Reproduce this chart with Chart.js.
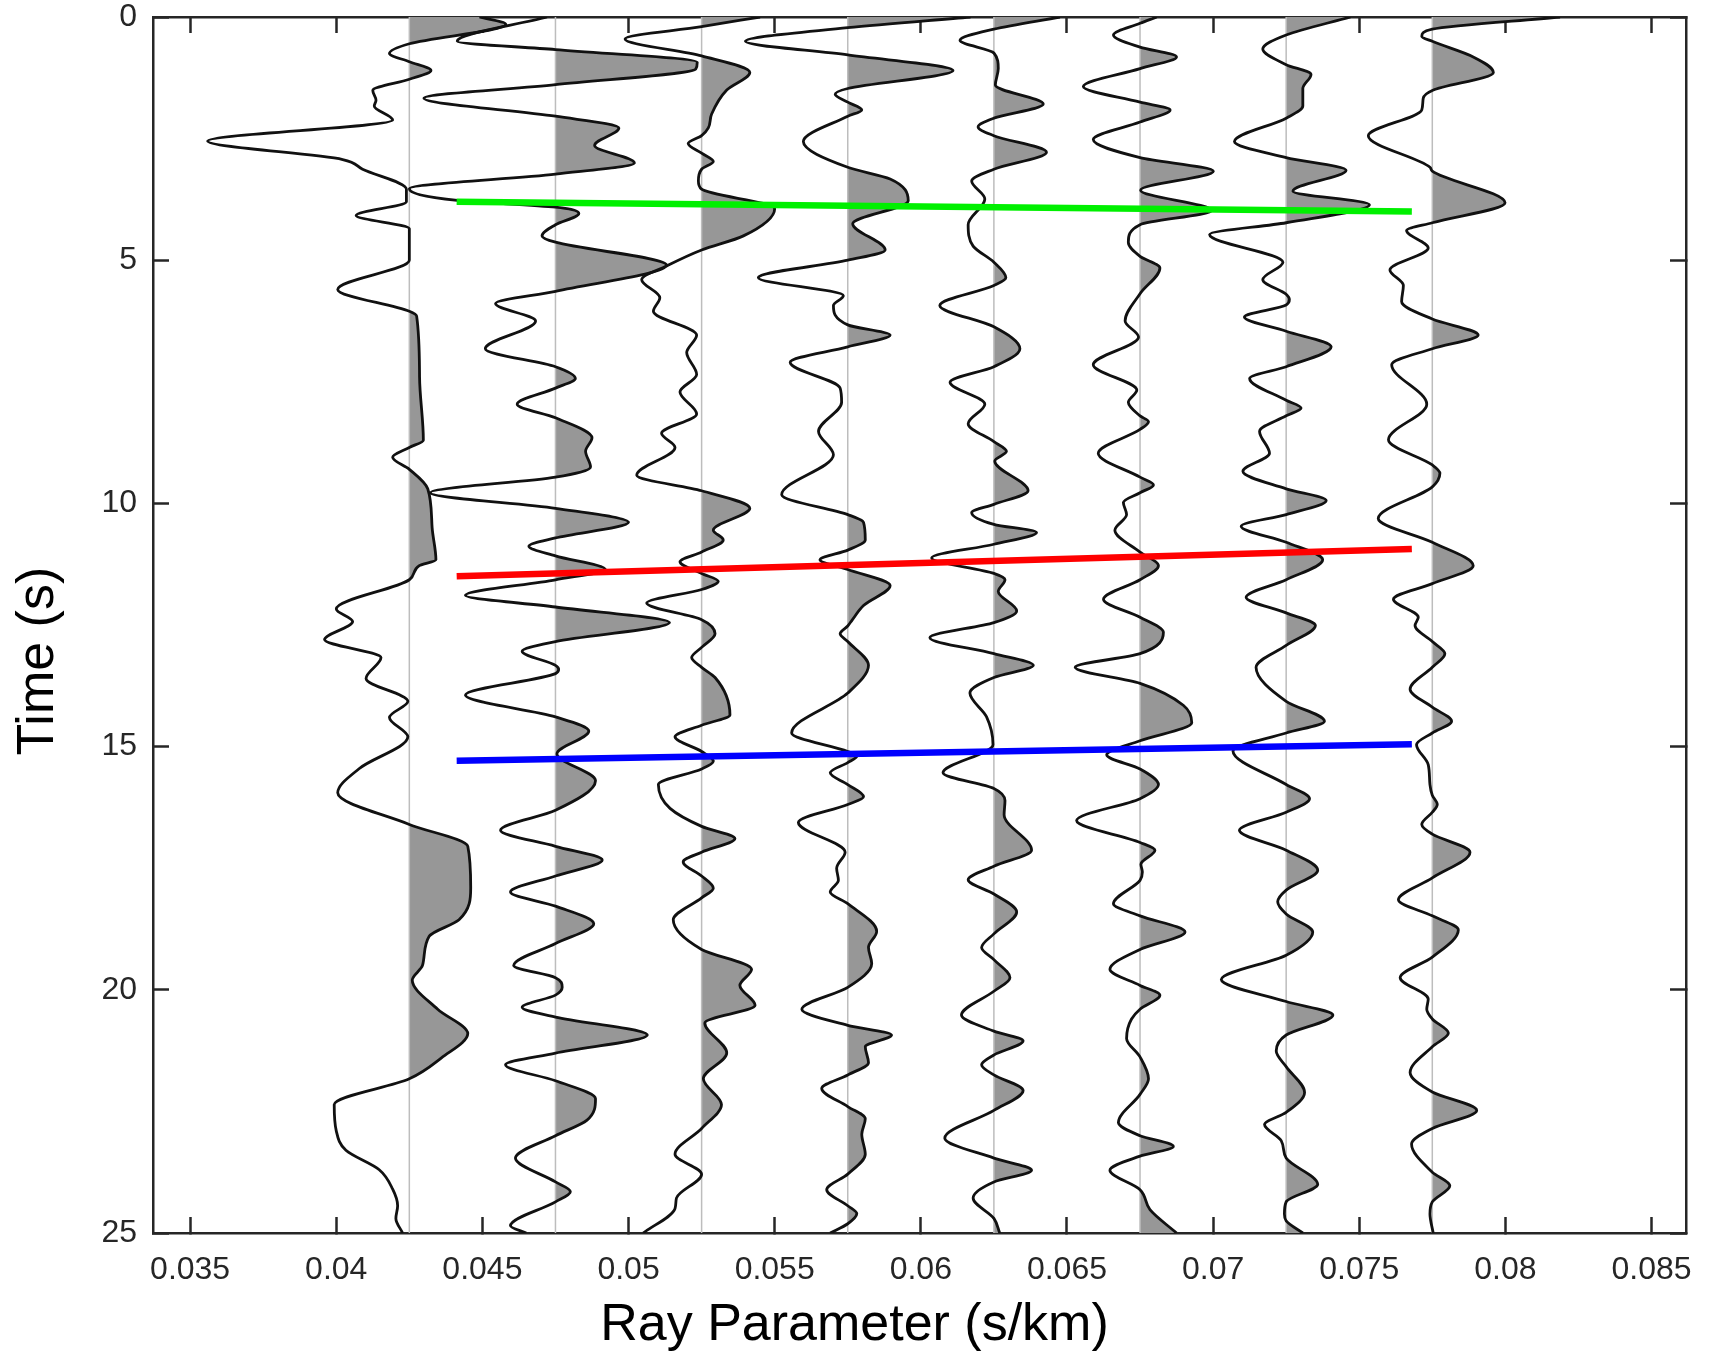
<!DOCTYPE html>
<html>
<head>
<meta charset="utf-8">
<title>Ray parameter gather</title>
<script src="https://cdn.jsdelivr.net/npm/chart.js@4.4.1/dist/chart.umd.min.js"></script>
<style>
  html, body { margin: 0; padding: 0; background: #fff; }
  canvas { display: block; }
</style>
</head>
<body>
<canvas id="gather" width="1713" height="1357"></canvas>
<script>
// ray parameter (s/km) of each trace baseline
const rayParams = [0.0425, 0.0475, 0.0525, 0.0575, 0.0625, 0.0675, 0.0725, 0.0775];

// samples: [time (s), amplitude offset in 0.001 s/km]
const trace1 = [[0,2.4],[0.15,3.3],[0.55,0],[0.75,-0.68],[0.92,0],[1.1,0.74],[1.28,0],[1.51,-1.25],[1.71,-1.14],[1.83,-1.2],[2.12,-0.57],[2.55,-6.9],[2.93,-2.28],[3.13,-1.6],[3.54,-0.1],[3.8,-0.1],[4.08,-1.82],[4.35,0],[5.0,0],[5.6,-2.45],[6.05,0],[6.15,0.25],[7.4,0.35],[8.7,0.48],[8.85,0],[9.05,-0.57],[9.3,0],[9.7,0.63],[10.5,0.78],[11.16,0.91],[11.28,0.34],[11.57,0],[12.17,-2.5],[12.43,-1.94],[12.8,-2.9],[13.17,-0.97],[13.6,-1.48],[14.07,-0.05],[14.4,-0.68],[14.8,-0.05],[15.45,-1.71],[15.95,-2.45],[16.6,0],[17.05,2.0],[17.9,2.1],[18.56,1.7],[18.9,0.68],[19.5,0.45],[19.8,0.1],[20.4,0.97],[20.9,2.0],[21.4,1.1],[21.83,0],[22.36,-2.57],[22.9,-2.5],[23.3,-2.17],[23.7,-1.03],[24.1,-0.57],[24.44,-0.4],[24.7,-0.46],[25,-0.23]];
const trace2 = [[0,-0.29],[0.5,-3.36],[0.67,0],[0.93,4.85],[1.07,4.8],[1.39,0],[1.67,-4.5],[2.04,0],[2.28,2.17],[2.64,1.34],[3.0,2.7],[3.23,0],[3.53,-5.0],[3.77,-3.36],[3.91,0],[4.04,0.8],[4.27,0],[4.5,-0.46],[4.63,0],[5.1,3.8],[5.64,0],[5.89,-2.05],[6.25,-0.68],[6.82,-2.4],[7.19,0],[7.43,0.68],[7.63,0],[7.96,-1.31],[8.24,0],[8.65,1.25],[8.93,1.03],[9.25,1.2],[9.46,0],[9.78,-4.28],[10.1,0],[10.39,2.5],[10.71,0],[10.88,-0.91],[11.08,0],[11.36,1.71],[11.57,0],[11.89,-3.08],[12.13,0],[12.45,3.9],[12.84,0],[13.04,-1.14],[13.33,0],[13.41,0.11],[13.5,0],[13.94,-3.08],[14.39,0],[14.68,1.14],[15.15,0.05],[15.7,1.37],[16.31,0],[16.72,-1.88],[17.05,0],[17.33,1.6],[17.66,0],[17.99,-1.54],[18.28,0],[18.64,1.31],[19.05,0],[19.5,-1.43],[19.75,0],[19.95,0.23],[20.11,0],[20.36,-1.14],[20.56,0],[20.93,3.14],[21.3,0],[21.54,-1.71],[21.87,0],[22.24,1.37],[22.68,1.08],[23.0,0],[23.46,-1.37],[23.95,0],[24.15,0.51],[24.36,0],[24.85,-1.54],[25,-1.0]];
const trace3 = [[0,2.0],[0.2,0],[0.45,-2.62],[0.8,0],[1.14,1.65],[1.5,0.86],[2.0,0.34],[2.28,0.23],[2.44,0],[2.6,-0.46],[2.8,0],[2.97,0.4],[3.13,0],[3.37,-0.11],[3.54,0],[3.94,2.5],[4.5,1.43],[4.79,0],[5.12,-1.2],[5.4,-2.05],[5.77,-1.43],[6.05,-1.65],[6.54,-0.17],[6.9,-0.51],[7.35,-0.17],[7.71,-0.74],[8.16,-0.17],[8.56,-1.37],[8.85,-0.91],[9.42,-2.22],[9.74,0],[10.1,1.65],[10.55,0.4],[10.75,0.74],[11.0,0],[11.2,-0.74],[11.44,0],[11.6,0.57],[11.77,0],[12.05,-1.88],[12.39,0],[12.68,0.46],[12.96,0],[13.17,-0.34],[13.37,0],[13.58,0.46],[14.35,0.97],[14.56,0],[14.8,-0.91],[15.1,0],[15.3,0.4],[15.46,0],[15.78,-1.48],[16.27,-1.08],[16.64,0],[16.89,1.14],[17.17,0],[17.37,-0.63],[17.66,0],[17.91,0.4],[18.11,0],[18.56,-0.97],[19.17,0],[19.58,1.71],[19.91,1.31],[20.32,1.83],[20.68,0.11],[21.3,0.86],[21.83,0.06],[22.36,0.68],[22.85,0],[23.38,-0.91],[23.79,0],[24.28,-0.86],[24.5,-0.91],[25,-2.0]];
const trace4 = [[0,4.2],[0.22,0],[0.5,-3.5],[0.78,0],[1.1,3.6],[1.47,0],[1.59,-0.43],[1.75,0],[1.91,0.48],[2.04,0],[2.56,-1.52],[3.09,0],[3.33,1.45],[3.78,2.07],[4.25,0.17],[4.79,1.28],[5.0,0],[5.36,-3.06],[5.73,-0.15],[5.93,-0.49],[6.33,0],[6.54,1.45],[6.78,0],[7.1,-1.97],[7.63,-0.26],[7.92,-0.21],[8.52,-1.0],[9.0,-0.49],[9.82,-2.26],[10.23,0],[10.39,0.54],[10.75,0.6],[10.96,0],[11.16,-0.95],[11.36,0],[11.69,1.45],[12.1,0.54],[12.4,0.15],[12.52,0],[12.68,-0.26],[12.84,0],[13.33,0.71],[13.9,0],[14.72,-1.92],[15.1,0],[15.2,0.31],[15.33,0],[15.54,-0.6],[15.78,0],[16.03,0.54],[16.19,0],[16.56,-1.69],[17.17,-0.09],[17.5,-0.38],[17.75,-0.32],[17.99,-0.6],[18.23,0],[18.8,0.99],[19.13,0.71],[19.46,0.82],[19.95,0],[20.4,-1.57],[20.73,0],[20.93,1.5],[21.17,0.6],[21.5,0.71],[21.75,0],[22.03,-0.89],[22.4,0],[22.65,0.6],[22.97,0.48],[23.38,0.6],[23.79,0],[24.11,-0.72],[24.44,0],[24.6,0.31],[24.81,0],[25,-0.6]];
const trace5 = [[0,2.26],[0.25,0],[0.48,-1.16],[0.74,0],[1.06,0.15],[1.4,0.05],[1.79,1.69],[2.08,0],[2.26,-0.54],[2.44,0],[2.78,1.8],[3.13,0],[3.37,-0.76],[3.74,-0.31],[4.27,-0.88],[4.71,-0.71],[5.04,0],[5.36,0.41],[5.52,0],[5.93,-1.85],[6.37,0],[6.82,0.89],[7.19,0],[7.51,-1.5],[7.96,-0.31],[8.36,-0.88],[8.73,0],[8.93,0.43],[9.13,0.03],[9.74,1.17],[10.02,0],[10.19,-0.76],[10.43,0],[10.6,1.46],[10.84,0],[11.12,-2.13],[11.44,0],[11.57,0.38],[11.81,0.15],[12.21,0.78],[12.45,0],[12.76,-2.19],[13.09,0],[13.33,1.35],[13.58,0],[13.9,-0.82],[14.39,-0.25],[14.96,-0.03],[15.54,-1.74],[15.86,0],[16.11,0.38],[16.4,0.35],[17.13,1.29],[17.46,0],[17.74,-0.88],[18.03,0],[18.4,0.78],[18.85,0],[19.13,-0.42],[19.38,0],[19.75,0.55],[20.03,0],[20.52,-1.11],[20.85,0],[21.05,1.0],[21.34,0],[21.54,-0.42],[21.75,0],[22.07,1.0],[22.48,0],[23.05,-1.68],[23.46,0],[23.71,1.29],[23.95,0],[24.28,-0.71],[24.7,0],[25,0.2]];
const trace6 = [[0,0.57],[0.13,0],[0.37,-0.91],[0.62,0],[0.82,1.25],[1.06,0],[1.43,-1.94],[1.75,0],[1.91,1.03],[2.16,0],[2.52,-1.6],[2.89,0],[3.17,2.51],[3.56,0.02],[3.98,2.45],[4.27,0],[4.63,-0.4],[4.92,0],[5.16,0.68],[5.69,0],[6.25,-0.51],[6.58,-0.05],[7.15,-1.6],[7.67,-0.11],[7.92,-0.4],[8.2,0],[8.32,0.29],[8.48,0],[8.97,-1.43],[9.46,0],[9.62,0.46],[9.78,0],[9.98,-0.57],[10.23,-0.46],[10.55,-0.86],[11.0,0],[11.28,0.63],[11.57,0],[11.97,-1.25],[12.34,0],[12.65,0.8],[13.09,0],[13.37,-2.22],[13.7,0],[14.15,1.48],[14.51,1.77],[14.88,0],[15.17,-1.14],[15.46,0],[15.78,0.63],[16.07,0],[16.52,-2.17],[16.97,0],[17.13,0.51],[17.42,0.03],[17.58,0.08],[17.75,0],[18.23,-0.91],[18.48,0],[18.81,1.54],[19.17,0],[19.58,-1.03],[19.91,0],[20.11,0.68],[20.4,0],[20.6,-0.29],[21.0,-0.46],[21.38,0],[21.83,0.29],[22.15,0],[22.73,-0.74],[23.0,0],[23.22,1.14],[23.42,0],[23.71,-1.03],[24.11,0],[24.52,0.34],[25,1.25]];
const trace7 = [[0,2.2],[0.37,0],[0.66,-0.8],[0.98,0],[1.18,0.85],[1.47,0.57],[1.83,0.57],[2.08,0],[2.56,-1.77],[2.89,0],[3.15,2.05],[3.58,0.23],[3.86,2.85],[4.23,0],[4.47,-2.62],[5.04,-0.11],[5.4,-0.8],[5.7,0],[5.81,0.11],[5.92,0],[6.17,-1.43],[6.46,0],[6.78,1.54],[7.19,0],[7.43,-1.25],[7.88,0],[8.04,0.51],[8.2,0],[8.52,-0.91],[8.97,-0.57],[9.34,-1.48],[9.7,0],[9.94,1.37],[10.23,0],[10.47,-1.54],[10.8,0],[11.16,1.25],[11.57,0],[11.93,-1.37],[12.25,0],[12.51,1.0],[12.92,0],[13.37,-1.03],[14.07,0],[14.48,1.31],[14.72,0],[15.09,-1.82],[15.78,0],[16.07,0.8],[16.35,0],[16.72,-1.6],[17.13,0],[17.54,1.08],[17.95,0],[18.19,-0.29],[18.44,0],[18.81,0.91],[19.29,0],[19.79,-2.22],[20.24,0],[20.52,1.6],[20.93,0],[21.26,-0.34],[21.58,0],[22.11,0.63],[22.52,0],[22.77,-0.74],[23.1,-0.17],[23.46,0],[24.0,1.08],[24.36,0],[24.61,-0.06],[24.75,0],[25,0.57]];
const trace8 = [[0,4.37],[0.25,0],[0.4,-0.36],[0.5,0],[0.82,1.4],[1.14,2.09],[1.51,0],[1.67,-0.31],[1.91,-0.36],[2.44,-2.19],[3.09,-0.08],[3.17,0],[3.82,2.49],[4.23,0],[4.39,-0.88],[4.75,-0.14],[5.2,-1.45],[5.52,-0.99],[5.85,-1.05],[6.21,0],[6.54,1.57],[6.82,0],[7.15,-1.39],[7.96,-0.19],[8.69,-1.5],[9.21,0],[9.38,0.26],[9.66,0],[10.31,-1.85],[10.8,0],[11.28,1.4],[11.65,0],[11.97,-1.33],[12.34,-0.48],[12.51,-0.59],[12.84,0],[13.09,0.43],[13.37,0],[13.82,-0.76],[14.19,0],[14.48,0.66],[14.72,0],[14.96,-0.54],[15.37,-0.14],[15.78,-0.08],[16.0,0],[16.19,0.17],[16.35,0],[16.6,-0.36],[16.8,0],[17.17,1.29],[17.7,0],[18.15,-1.16],[18.48,0],[18.77,0.89],[19.33,0],[19.75,-1.1],[20.19,-0.14],[20.4,-0.19],[20.6,0],[20.89,0.55],[21.17,0],[21.7,-0.76],[22.1,0],[22.48,1.52],[22.85,0],[23.17,-0.71],[23.75,0],[24.03,0.6],[24.36,0],[24.61,-0.08],[25,0.03]];
const traces = [trace1, trace2, trace3, trace4, trace5, trace6, trace7, trace8];

// picked phases: [ray parameter, time]
const pickGreen = [[0.04412, 3.80], [0.0768, 4.00]];
const pickRed = [[0.04412, 11.50], [0.0768, 10.94]];
const pickBlue = [[0.04412, 15.29], [0.0768, 14.95]];

const xTicks = [0.035, 0.04, 0.045, 0.05, 0.055, 0.06, 0.065, 0.07, 0.075, 0.08, 0.085];
const yTicks = [0, 5, 10, 15, 20, 25];

const X_MIN = 0.03373, X_MAX = 0.08618;
const FILL = '#979797';
const NONE = 'rgba(0,0,0,0)';
const INK = '#262626';
const FONT = 'Liberation Sans, Arial, Helvetica, sans-serif';

const toPoints = (base, tr) => tr.map(([t, a]) => ({x: base + a / 1000, y: t}));

const datasets = [];
traces.forEach((tr, i) => {
  const base = rayParams[i];
  // positive lobes shaded towards the trace baseline
  datasets.push({
    data: toPoints(base, tr),
    order: 4,
    borderColor: NONE,
    backgroundColor: NONE,
    borderWidth: 1,
    pointRadius: 0,
    cubicInterpolationMode: 'monotone',
    fill: {value: base},
    segment: {
      backgroundColor: c => (c.p0.parsed.x >= base - 1e-9 && c.p1.parsed.x >= base - 1e-9) ? FILL : NONE
    }
  });
  // baseline
  datasets.push({
    data: [{x: base, y: 0}, {x: base, y: 25}],
    order: 3,
    borderColor: '#bdbdbd',
    borderWidth: 1.5,
    pointRadius: 0,
    fill: false
  });
  // the wiggle itself
  datasets.push({
    data: toPoints(base, tr),
    order: 2,
    borderColor: '#111',
    borderWidth: 2.8,
    pointRadius: 0,
    cubicInterpolationMode: 'monotone',
    fill: false
  });
});

[[pickGreen, '#00f000'], [pickRed, '#ff0000'], [pickBlue, '#0000ff']].forEach(([p, col]) => {
  datasets.push({
    data: p.map(([x, y]) => ({x, y})),
    order: 1,
    borderColor: col,
    borderWidth: 6.5,
    pointRadius: 0,
    tension: 0,
    fill: false
  });
});

const frame = {display: true, color: INK, width: 2.5};
const tickGrid = {drawOnChartArea: false, drawTicks: true, tickLength: -16, tickWidth: 2.5, tickColor: INK};
const fixTicks = values => scale => { scale.ticks = values.map(v => ({value: v})); };
// fixed box sizes, no extra room for overhanging labels
const boxSize = (w, h) => s => {
  if (w !== null) s.width = w;
  if (h !== null) s.height = h;
  s.paddingLeft = s.paddingRight = s.paddingTop = s.paddingBottom = 0;
};

new Chart(document.getElementById('gather'), {
  type: 'line',
  data: {datasets},
  options: {
    indexAxis: 'y',
    responsive: false,
    animation: false,
    devicePixelRatio: 1,
    layout: {padding: 0},
    plugins: {legend: {display: false}, tooltip: {enabled: false}},
    scales: {
      x: {
        type: 'linear', position: 'bottom', min: X_MIN, max: X_MAX,
        afterBuildTicks: fixTicks(xTicks),
        afterFit: boxSize(null, 124),
        grid: tickGrid, border: frame,
        ticks: {font: {family: FONT, size: 32}, color: INK, padding: 34, maxRotation: 0, autoSkip: false, callback: v => String(v)},
        title: {display: true, text: 'Ray Parameter (s/km)         ', color: '#000', font: {family: FONT, size: 52}, padding: {top: 0, bottom: 0}}
      },
      x2: {
        type: 'linear', position: 'top', min: X_MIN, max: X_MAX,
        afterBuildTicks: fixTicks(xTicks),
        afterFit: boxSize(null, 17),
        grid: tickGrid, border: frame,
        ticks: {display: false}
      },
      y: {
        type: 'linear', position: 'left', reverse: true, min: 0, max: 25,
        afterBuildTicks: fixTicks(yTicks),
        afterFit: boxSize(153, null),
        grid: tickGrid, border: frame,
        ticks: {font: {family: FONT, size: 32}, color: INK, padding: 32, callback: v => String(v)},
        title: {display: true, text: 'Time (s)     ', color: '#000', font: {family: FONT, size: 52}, padding: {top: 7, bottom: 0}}
      },
      y2: {
        type: 'linear', position: 'right', reverse: true, min: 0, max: 25,
        afterBuildTicks: fixTicks(yTicks),
        afterFit: boxSize(27, null),
        grid: tickGrid, border: frame,
        ticks: {display: false}
      }
    }
  }
});
</script>
</body>
</html>
